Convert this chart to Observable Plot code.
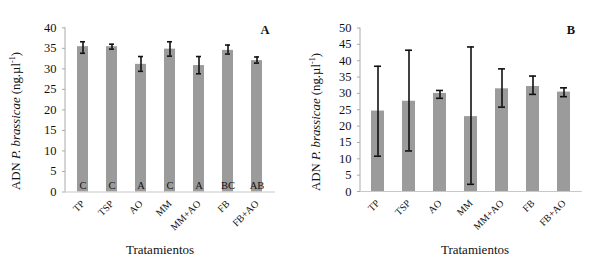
<!DOCTYPE html>
<html>
<head>
<meta charset="utf-8">
<script src="https://cdn.jsdelivr.net/npm/d3@7"></script>
<script src="https://cdn.jsdelivr.net/npm/@observablehq/plot@0.6"></script>
<style>
  html, body { margin: 0; padding: 0; background: #fff; }
  #wrap { display: flex; width: 590px; height: 270px; }
  svg { font-family: "Liberation Serif", "Times New Roman", serif; }
</style>
</head>
<body>
<div id="wrap"></div>
<script>
const categories = ["TP", "TSP", "AO", "MM", "MM+AO", "FB", "FB+AO"];

// Panel A
const meanA = [35.4, 35.4, 31.1, 34.8, 30.8, 34.5, 32.0];
const lowA  = [33.8, 34.8, 29.4, 33.1, 28.8, 33.6, 31.4];
const highA = [36.6, 36.0, 33.0, 36.6, 33.0, 35.8, 32.9];
const lettersA = ["C", "C", "A", "C", "A", "BC", "AB"];
const ticksA = [0, 5, 10, 15, 20, 25, 30, 35, 40];

// Panel B
const meanB = [24.6, 27.6, 30.0, 22.9, 31.4, 32.1, 30.4];
const lowB  = [10.8, 12.4, 28.5, 2.2, 25.8, 29.7, 29.0];
const highB = [38.3, 43.2, 30.9, 44.2, 37.5, 35.3, 31.7];
const ticksB = [0, 5, 10, 15, 20, 25, 30, 35, 40, 45, 50];

const xTitle = "Tratamientos";

function panel({mean, low, high, letters, ticks, ymax, panelLabel, cfg}) {
  const data = categories.map((c, i) => ({
    cat: c, mean: mean[i], low: low[i], high: high[i], letter: letters ? letters[i] : null
  }));
  const marks = [
    Plot.barY(data, {x: "cat", y: "mean", fill: "#9b9b9b"}),
    Plot.ruleY([0], {stroke: "#c8c8c8", strokeWidth: 1.2}),
    Plot.ruleX(data, {x: "cat", y1: "low", y2: "high", stroke: "#111", strokeWidth: 1.6}),
    Plot.tickY(data, {x: "cat", y: "low", stroke: "#111", strokeWidth: 1.6, inset: cfg.capInset}),
    Plot.tickY(data, {x: "cat", y: "high", stroke: "#111", strokeWidth: 1.6, inset: cfg.capInset}),
    Plot.axisY({ticks: ticks, tickSize: 3, tickPadding: 6, label: null, stroke: "#aaa",
      fontSize: 12.5, fill: "#111"}),
    Plot.text(categories, {x: (d) => d, y: 0, text: (d) => d, rotate: -45, textAnchor: "end",
      lineAnchor: "middle", dx: 0, dy: 10, fontSize: 10, fill: "#111"})
  ];
  if (letters) {
    marks.push(Plot.text(data, {x: "cat", y: cfg.letterY, text: "letter", fontSize: 10.5,
      fill: "#111", stroke: null}));
  }
  const svg = Plot.plot({
    width: 295,
    height: 270,
    marginLeft: 65,
    marginRight: cfg.marginRight,
    marginTop: cfg.marginTop,
    marginBottom: cfg.marginBottom,
    style: {fontFamily: "Liberation Serif, Times New Roman, serif", background: "#fff"},
    x: {domain: categories, paddingInner: cfg.pi, paddingOuter: cfg.po, label: null, axis: null},
    y: {domain: [0, ymax], label: null},
    marks
  });
  const s = d3.select(svg);
  // vertical axis line
  s.append("line")
    .attr("x1", 65).attr("x2", 65)
    .attr("y1", cfg.marginTop).attr("y2", 270 - cfg.marginBottom)
    .attr("stroke", "#aaa").attr("stroke-width", 1);
  // y-axis title with italics and superscript
  const yt = s.append("text")
    .attr("transform", `translate(${cfg.yTitleX},${cfg.yTitleY}) rotate(-90)`)
    .attr("text-anchor", "middle")
    .attr("font-size", 12.8)
    .attr("fill", "#111");
  yt.append("tspan").text("ADN ");
  yt.append("tspan").attr("font-style", "italic").text("P. brassicae");
  yt.append("tspan").text(" (ng.µl");
  yt.append("tspan").attr("font-size", 8).attr("dy", -5).text("-1");
  yt.append("tspan").attr("dy", 5).text(")");
  // x-axis title
  s.append("text")
    .attr("x", cfg.xTitleX).attr("y", 254)
    .attr("text-anchor", "middle")
    .attr("font-size", 13)
    .attr("fill", "#111")
    .text(xTitle);
  // panel label
  s.append("text")
    .attr("x", cfg.panelX).attr("y", 34)
    .attr("text-anchor", "middle")
    .attr("font-size", 12.5)
    .attr("font-weight", "bold")
    .attr("fill", "#111")
    .text(panelLabel);
  return svg;
}

const wrap = document.getElementById("wrap");
wrap.appendChild(panel({
  mean: meanA, low: lowA, high: highA, letters: lettersA, ticks: ticksA, ymax: 40, panelLabel: "A",
  cfg: {marginRight: 20, marginTop: 27.3, marginBottom: 78.5, pi: 0.62, po: 0.32, capInset: 3,
        letterY: 1.6, yTitleX: 20, yTitleY: 121, xTitleX: 160, panelX: 265}
}));
wrap.appendChild(panel({
  mean: meanB, low: lowB, high: highB, letters: null, ticks: ticksB, ymax: 50, panelLabel: "B",
  cfg: {marginRight: 8.3, marginTop: 27.5, marginBottom: 79, pi: 0.59, po: 0.3, capInset: 3,
        letterY: 0, yTitleX: 25, yTitleY: 122, xTitleX: 180, panelX: 276}
}));
</script>
</body>
</html>
